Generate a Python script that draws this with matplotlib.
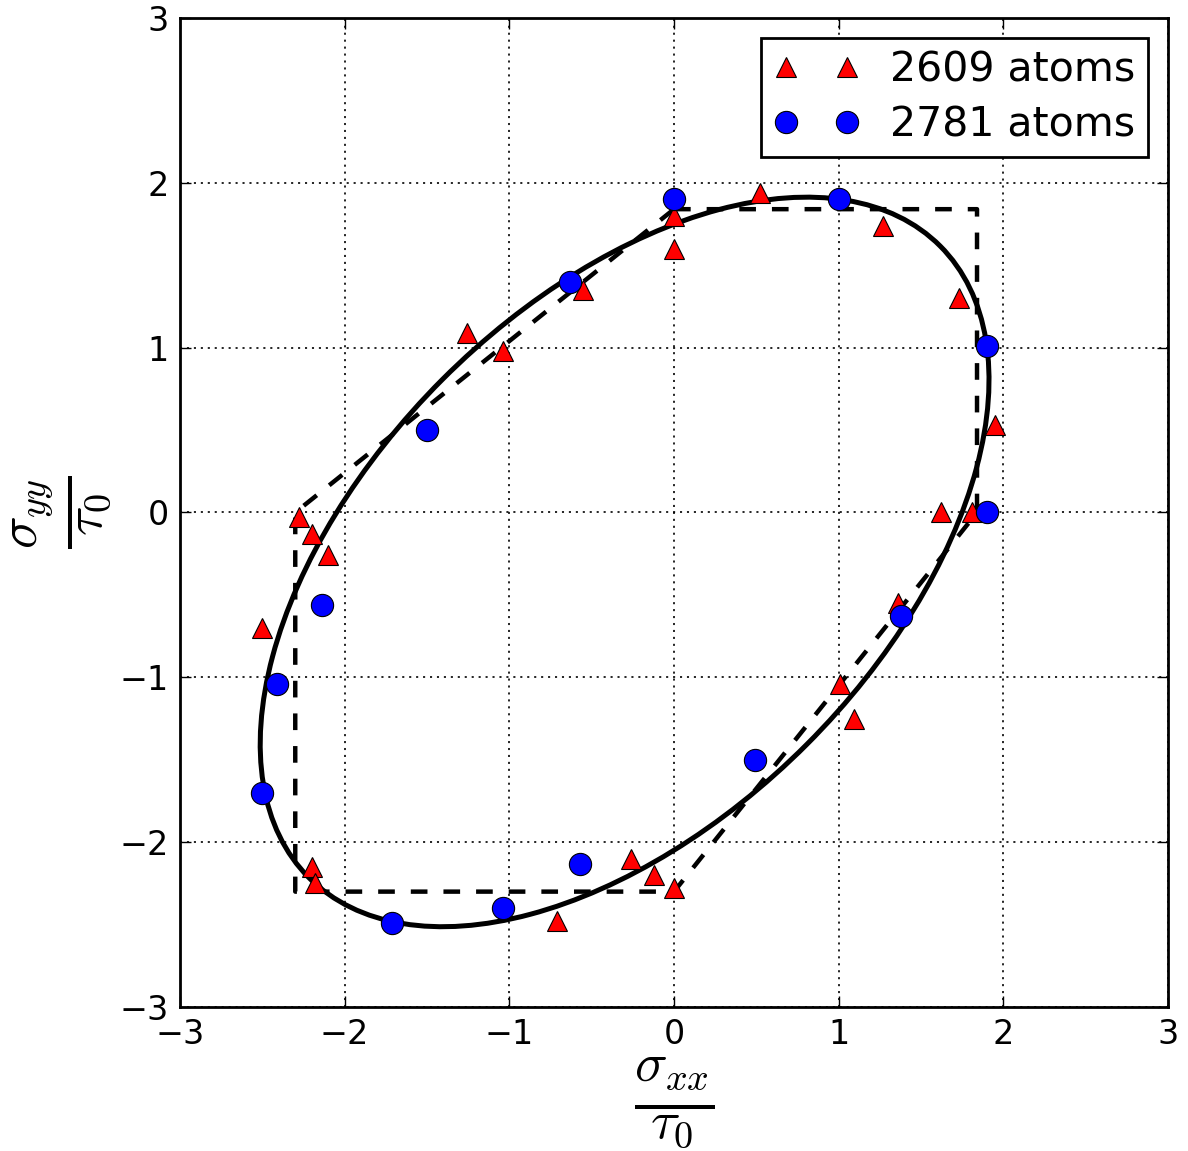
import matplotlib
matplotlib.use("Agg")
import matplotlib.pyplot as plt
from matplotlib.patches import Ellipse

# red triangles: 2609 atoms
tri_x = [0.0, 0.0, 0.52, 1.27, 1.73, 1.95, 1.62, 1.81, 1.36, 1.01, 1.09,
         0.0, -0.12, -0.26, -0.71, -2.2, -2.18, -2.5, -2.28, -2.2, -2.1,
         -1.26, -1.04, -0.55]
tri_y = [1.8, 1.6, 1.94, 1.74, 1.30, 0.53, 0.0, 0.0, -0.55, -1.04, -1.25,
         -2.28, -2.2, -2.1, -2.48, -2.15, -2.25, -0.7, -0.03, -0.13, -0.26,
         1.09, 0.98, 1.35]

# blue circles: 2781 atoms
circ_x = [0.0, 1.0, -0.63, 1.9, 1.9, -1.5, -2.14, 1.38, -2.41, -2.5, 0.49,
          -0.57, -1.04, -1.71]
circ_y = [1.9, 1.9, 1.4, 1.01, 0.0, 0.5, -0.56, -0.63, -1.04, -1.7, -1.5,
          -2.13, -2.4, -2.49]

# fitted ellipse (von Mises type, shifted)
ell_center = (-0.3, -0.3)
ell_width = 5.42
ell_height = 3.13
ell_angle = 45

# Tresca-like hexagon
hex_x = [0.0, 1.84, 1.84, 0.0, -2.3, -2.3, 0.0]
hex_y = [1.84, 1.84, 0.0, -2.3, -2.3, 0.0, 1.84]

labels = ["2609 atoms", "2781 atoms"]

plt.rcParams['lines.scale_dashes'] = False
plt.rcParams['mathtext.fontset'] = 'cm'

fig = plt.figure(figsize=(11.88, 11.51), dpi=100)
ax = fig.add_axes([0.1515, 0.1251, 0.8317, 0.8593])

ax.add_patch(Ellipse(ell_center, ell_width, ell_height, angle=ell_angle,
                     fill=False, edgecolor='black', linewidth=3.6, zorder=3))
ax.plot(hex_x, hex_y, color='black', linewidth=3.2, dashes=(12, 11.5),
        dash_joinstyle='round', dash_capstyle='butt', zorder=3)

ax.plot(tri_x, tri_y, '^', color='red', markersize=15, markeredgecolor='black',
        markeredgewidth=0.8, label=labels[0], zorder=4)
ax.plot(circ_x, circ_y, 'o', color='blue', markersize=16, markeredgecolor='black',
        markeredgewidth=0.8, label=labels[1], zorder=5)

ax.set_xlim(-3, 3)
ax.set_ylim(-3, 3)
ax.set_xticks(range(-3, 4))
ax.set_yticks(range(-3, 4))
ax.grid(True, color='black', linestyle=(0, (1.5, 3.5)), linewidth=1.2)
ax.tick_params(direction='in', top=True, right=True, length=8, width=1,
               labelsize=24, pad=8)
for s in ax.spines.values():
    s.set_linewidth(2)

ax.set_xlabel(r'$\frac{\sigma_{xx}}{\tau_0}$', fontsize=56, labelpad=3)
ax.set_ylabel(r'$\frac{\sigma_{yy}}{\tau_0}$', fontsize=56, labelpad=4)

leg = ax.legend(loc='upper right', numpoints=2, fontsize=29.5, fancybox=False,
                framealpha=1, borderaxespad=0.5, handletextpad=0.75,
                borderpad=0.3, labelspacing=0.35, handlelength=2.1)
leg.get_frame().set_edgecolor('black')
leg.get_frame().set_linewidth(2)

fig.savefig('out.png', dpi=100)
